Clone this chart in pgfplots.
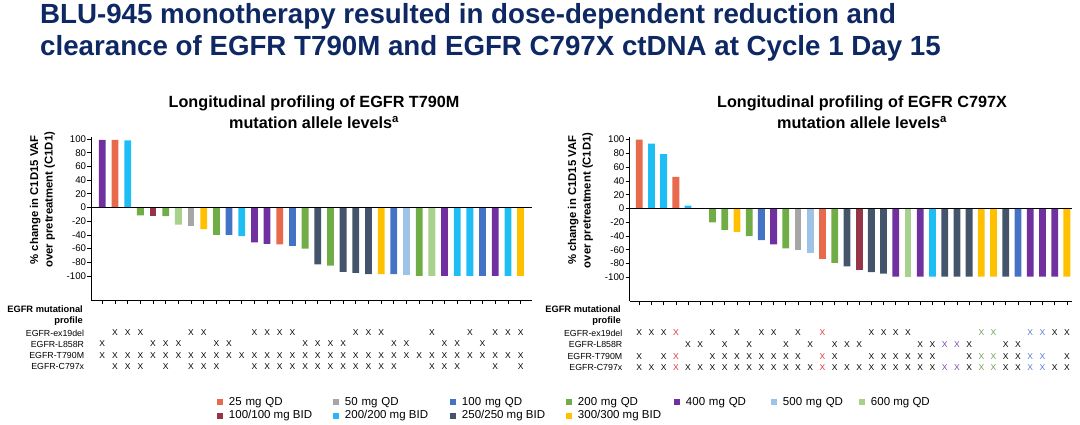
\documentclass[border=0pt]{standalone}
\usepackage{fontspec}
\setmainfont{Liberation Sans}
\usepackage{pgfplots}
\pgfplotsset{compat=1.18}
\definecolor{cQa}{RGB}{232,106,76}
\definecolor{cQb}{RGB}{166,166,166}
\definecolor{cQc}{RGB}{68,114,196}
\definecolor{cQd}{RGB}{112,173,71}
\definecolor{cQe}{RGB}{112,48,160}
\definecolor{cQf}{RGB}{157,195,230}
\definecolor{cQg}{RGB}{169,209,142}
\definecolor{cBa}{RGB}{150,52,72}
\definecolor{cBb}{RGB}{30,190,245}
\definecolor{cBc}{RGB}{68,84,106}
\definecolor{cBd}{RGB}{255,192,0}
\definecolor{titleblue}{RGB}{14,40,100}
\definecolor{xred}{RGB}{222,50,50}
\definecolor{xpur}{RGB}{125,70,180}
\definecolor{xgrn}{RGB}{110,155,80}
\definecolor{xblu}{RGB}{80,120,215}
\pgfplotsset{
  mybar/.style={ybar, bar shift=0pt, bar width=6.8pt, fill=#1, draw=none,
    legend image code/.code={\fill[#1] (0pt,-3pt) rectangle (6pt,3pt);}},
  xrow/.style={only marks, mark=text, text mark={X}, text mark as node=true,
    text mark style={font=\fontsize{8.5}{9}\selectfont, text=#1, inner sep=0pt, anchor=center}},
  baraxis/.style={scale only axis, clip=false, anchor=south west,
    axis x line*=bottom, axis y line*=left,
    axis line style={-, line width=0.9pt, black},
    tick align=outside, major tick length=4pt, tick style={black, line width=0.7pt},
    xticklabels={},
    ytick={-100,-80,...,100},
    yticklabels={-100,-80,-60,-40,-20,0,20,40,60,80,100},
    yticklabel style={font=\fontsize{9.7}{10}\selectfont, inner sep=1pt},
    ylabel={\% change in C1D15 VAF\\over pretreatment (C1D1)},
    ylabel style={at={(axis description cs:-0.111,0.615)}, anchor=center, align=center,
      font=\fontsize{11.3}{14.5}\selectfont\bfseries}},
  tabaxis/.style={scale only axis, clip=false, anchor=south west, ymin=0.5, ymax=4.5,
    axis line style={draw=none}, xtick=\empty, ytick={1,2,3,4},
    yticklabels={EGFR-C797x,EGFR-T790M,EGFR-L858R,EGFR-ex19del},
    major tick length=0pt, tick style={draw=none},
    yticklabel style={font=\fontsize{8.8}{10}\selectfont, inner sep=0pt, xshift=-7pt}},
}
\begin{document}
\begin{tikzpicture}
\useasboundingbox (0pt,0pt) rectangle (1080pt,425pt);
% main title
\node[anchor=base west, inner sep=0pt, text=titleblue, font=\fontsize{27.7}{32}\selectfont\bfseries] at (40pt,401pt) {BLU-945 monotherapy resulted in dose-dependent reduction and};
\node[anchor=base west, inner sep=0pt, text=titleblue, font=\fontsize{27.7}{32}\selectfont\bfseries] at (40pt,369pt) {clearance of EGFR T790M and EGFR C797X ctDNA at Cycle 1 Day 15};
% chart titles
\node[anchor=base, inner sep=0pt, font=\fontsize{16.2}{19}\selectfont\bfseries] at (314pt,317pt) {Longitudinal profiling of EGFR T790M};
\node[anchor=base, inner sep=0pt, font=\fontsize{16.2}{19}\selectfont\bfseries] at (314pt,296pt) {mutation allele levels\textsuperscript{a}};
\node[anchor=base, inner sep=0pt, font=\fontsize{16.2}{19}\selectfont\bfseries] at (862pt,317pt) {Longitudinal profiling of EGFR C797X};
\node[anchor=base, inner sep=0pt, font=\fontsize{16.2}{19}\selectfont\bfseries] at (862pt,296pt) {mutation allele levels\textsuperscript{a}};
% table headers
\node[anchor=base east, inner sep=0pt, font=\fontsize{9.3}{11}\selectfont\bfseries] at (83pt,112.5pt) {EGFR mutational};
\node[anchor=base east, inner sep=0pt, font=\fontsize{9.3}{11}\selectfont\bfseries] at (83pt,101.5pt) {profile};
\node[anchor=base east, inner sep=0pt, font=\fontsize{9.3}{11}\selectfont\bfseries] at (621pt,112.5pt) {EGFR mutational};
\node[anchor=base east, inner sep=0pt, font=\fontsize{9.3}{11}\selectfont\bfseries] at (621pt,101.5pt) {profile};

% ---------------- left bars
\begin{axis}[baraxis, at={(91.3pt,125pt)}, width=440.7pt, height=163.1pt,
  xmin=0.13, xmax=34.9, ymin=-135.2, ymax=103.2, xtick={1,...,34},
  legend columns=7, legend cell align=left,
  legend style={at={(0.2852,-0.5935)}, anchor=north west, draw=none, fill=none,
    inner sep=0pt, outer sep=0pt, font=\fontsize{11.5}{13}\selectfont,
    nodes={inner sep=0pt, text height=8.5pt, text depth=2.5pt},
    row sep=2.4pt, /tikz/every odd column/.append style={column sep=6pt}}]
\addplot[mybar=cQa] coordinates {(2,99) (15,-54)};
\addlegendentry[text width=104pt]{25 mg QD}
\addplot[mybar=cQb] coordinates {(8,-27.5)};
\addlegendentry[text width=105pt]{50 mg QD}
\addplot[mybar=cQc] coordinates {(11,-40) (16,-56) (24,-97.5) (31,-100)};
\addlegendentry[text width=104pt]{100 mg QD}
\addplot[mybar=cQd] coordinates {(4,-11.5) (6,-12.5) (10,-40) (17,-60) (19,-85) (26,-100)};
\addlegendentry[text width=96pt]{200 mg QD}
\addplot[mybar=cQe] coordinates {(1,99) (13,-51) (14,-53) (28,-100) (32,-100)};
\addlegendentry[text width=85pt]{400 mg QD}
\addplot[mybar=cQf] coordinates {(25,-99)};
\addlegendentry[text width=76pt]{500 mg QD}
\addplot[mybar=cQg] coordinates {(7,-25) (27,-100)};
\addlegendentry{600 mg QD}
\addplot[mybar=cBa] coordinates {(5,-12.5)};
\addlegendentry{100/100 mg BID}
\addplot[mybar=cBb] coordinates {(3,98) (12,-42) (29,-100) (30,-100) (33,-100)};
\addlegendentry{200/200 mg BID}
\addplot[mybar=cBc] coordinates {(18,-83) (20,-94) (21,-95.5) (22,-97.5)};
\addlegendentry{250/250 mg BID}
\addplot[mybar=cBd] coordinates {(9,-31.5) (23,-97.5) (34,-100)};
\addlegendentry{300/300 mg BID}
\addplot[black, line width=0.9pt, forget plot] coordinates {(0.13,0) (34.9,0)};
\end{axis}

% ---------------- left table
\begin{axis}[tabaxis, at={(91.3pt,53.2pt)}, width=440.7pt, height=44.4pt,
  xmin=0.13, xmax=34.9]
\addplot[xrow=black] coordinates {(2,4) (3,4) (4,4) (8,4) (9,4) (13,4) (14,4) (15,4) (16,4) (21,4) (22,4) (23,4) (27,4) (30,4) (32,4) (33,4) (34,4)};
\addplot[xrow=black] coordinates {(1,3) (5,3) (6,3) (7,3) (10,3) (11,3) (17,3) (18,3) (19,3) (20,3) (24,3) (25,3) (28,3) (29,3) (31,3)};
\addplot[xrow=black] coordinates {(1,2) (2,2) (3,2) (4,2) (5,2) (6,2) (7,2) (8,2) (9,2) (10,2) (11,2) (12,2) (13,2) (14,2) (15,2) (16,2) (17,2) (18,2) (19,2) (20,2) (21,2) (22,2) (23,2) (24,2) (25,2) (26,2) (27,2) (28,2) (29,2) (30,2) (31,2) (32,2) (33,2) (34,2)};
\addplot[xrow=black] coordinates {(2,1) (3,1) (4,1) (6,1) (8,1) (9,1) (10,1) (13,1) (14,1) (15,1) (16,1) (17,1) (18,1) (19,1) (20,1) (21,1) (22,1) (23,1) (24,1) (27,1) (28,1) (29,1) (32,1) (34,1)};
\end{axis}

% ---------------- right bars
\begin{axis}[baraxis, at={(629.5pt,123.5pt)}, width=442.5pt, height=164.5pt,
  xmin=0.206, xmax=36.42, ymin=-135, ymax=103.8, xtick={1,...,36}]
\addplot[mybar=cQa] coordinates {(1,100) (4,46) (16,-73)};
\addplot[mybar=cQb] coordinates {(14,-60)};
\addplot[mybar=cQc] coordinates {(11,-46) (32,-99)};
\addplot[mybar=cQd] coordinates {(7,-20) (8,-31) (10,-40) (13,-58) (17,-79)};
\addplot[mybar=cQe] coordinates {(12,-52) (22,-99) (24,-99) (33,-99) (34,-99) (35,-99)};
\addplot[mybar=cQf] coordinates {(15,-65)};
\addplot[mybar=cQg] coordinates {(23,-99)};
\addplot[mybar=cBa] coordinates {(19,-89)};
\addplot[mybar=cBb] coordinates {(2,94) (3,79) (5,4) (25,-99)};
\addplot[mybar=cBc] coordinates {(18,-84) (20,-92.5) (21,-94.5) (26,-99) (27,-99) (28,-99) (31,-99)};
\addplot[mybar=cBd] coordinates {(9,-34) (29,-99) (30,-99) (36,-99)};
\addplot[black, line width=0.9pt, forget plot] coordinates {(0.206,0) (36.42,0)};
\end{axis}

% ---------------- right table
\begin{axis}[tabaxis, at={(629.5pt,51.2pt)}, width=442.5pt, height=46.7pt,
  xmin=0.206, xmax=36.42]
\addplot[xrow=black] coordinates {(1,4) (2,4) (3,4) (7,4) (9,4) (11,4) (12,4) (14,4) (20,4) (21,4) (22,4) (23,4) (35,4) (36,4)};
\addplot[xrow=xred] coordinates {(4,4) (16,4)};
\addplot[xrow=xgrn] coordinates {(29,4) (30,4)};
\addplot[xrow=xblu] coordinates {(33,4) (34,4)};
\addplot[xrow=black] coordinates {(5,3) (6,3) (8,3) (10,3) (13,3) (15,3) (17,3) (18,3) (19,3) (24,3) (25,3) (28,3) (31,3) (32,3)};
\addplot[xrow=xpur] coordinates {(26,3) (27,3)};
\addplot[xrow=black] coordinates {(1,2) (3,2) (7,2) (8,2) (9,2) (10,2) (11,2) (12,2) (13,2) (14,2) (17,2) (20,2) (21,2) (22,2) (23,2) (24,2) (25,2) (28,2) (31,2) (32,2) (36,2)};
\addplot[xrow=xred] coordinates {(4,2) (16,2)};
\addplot[xrow=xgrn] coordinates {(29,2) (30,2)};
\addplot[xrow=xblu] coordinates {(33,2) (34,2)};
\addplot[xrow=black] coordinates {(1,1) (2,1) (3,1) (5,1) (6,1) (7,1) (8,1) (9,1) (10,1) (11,1) (12,1) (13,1) (14,1) (15,1) (17,1) (18,1) (19,1) (20,1) (21,1) (22,1) (23,1) (24,1) (25,1) (28,1) (31,1) (32,1) (35,1) (36,1)};
\addplot[xrow=xred] coordinates {(4,1) (16,1)};
\addplot[xrow=xpur] coordinates {(26,1) (27,1)};
\addplot[xrow=xgrn] coordinates {(29,1) (30,1)};
\addplot[xrow=xblu] coordinates {(33,1) (34,1)};
\end{axis}
\end{tikzpicture}
\end{document}
